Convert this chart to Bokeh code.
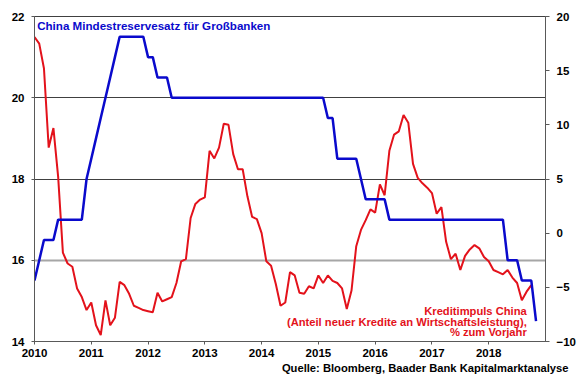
from bokeh.plotting import figure
from bokeh.models import Range1d, LinearAxis, FixedTicker, Grid, Label, Title
from bokeh.embed import file_html
from bokeh.resources import INLINE

# Monthly data from Jan 2010
reserve_ratio = [15.5, 16.0, 16.5, 16.5, 16.5, 17.0, 17.0, 17.0, 17.0, 17.0, 17.0, 18.0,
                 18.5, 19.0, 19.5, 20.0, 20.5, 21.0, 21.5, 21.5, 21.5, 21.5, 21.5, 21.5,
                 21.0, 21.0, 20.5, 20.5, 20.5, 20.0, 20.0, 20.0, 20.0, 20.0, 20.0, 20.0,
                 20.0, 20.0, 20.0, 20.0, 20.0, 20.0, 20.0, 20.0, 20.0, 20.0, 20.0, 20.0,
                 20.0, 20.0, 20.0, 20.0, 20.0, 20.0, 20.0, 20.0, 20.0, 20.0, 20.0, 20.0,
                 20.0, 20.0, 19.5, 19.5, 18.5, 18.5, 18.5, 18.5, 18.5, 18.0, 17.5, 17.5,
                 17.5, 17.5, 17.5, 17.0, 17.0, 17.0, 17.0, 17.0, 17.0, 17.0, 17.0, 17.0,
                 17.0, 17.0, 17.0, 17.0, 17.0, 17.0, 17.0, 17.0, 17.0, 17.0, 17.0, 17.0,
                 17.0, 17.0, 17.0, 17.0, 16.0, 16.0, 16.0, 15.5, 15.5, 15.5, 14.5]

credit_impulse = [18.1, 17.5, 15.2, 7.9, 9.7, 5.2, -1.8, -2.8, -3.1, -5.1, -5.9, -7.1,
                  -6.4, -8.5, -9.4, -6.2, -8.5, -7.8, -4.5, -4.8, -5.6, -6.7, -6.9, -7.1,
                  -7.2, -7.3, -5.5, -6.3, -6.1, -5.9, -4.6, -2.6, -2.4, 1.4, 2.7, 3.1,
                  3.3, 7.6, 6.9, 7.9, 10.1, 10.0, 7.3, 5.9, 5.9, 3.4, 1.5, 1.3,
                  0.0, -2.6, -3.0, -4.7, -6.7, -6.4, -3.6, -3.9, -5.5, -5.6, -4.9, -5.1,
                  -3.9, -4.6, -3.9, -4.4, -4.6, -5.1, -7.0, -5.3, -1.2, 0.3, 1.2, 2.2,
                  1.9, 4.5, 3.5, 7.6, 9.1, 9.4, 10.9, 10.2, 6.4, 5.1, 4.6, 4.2,
                  3.7, 1.8, 2.4, -0.8, -2.4, -1.9, -3.4, -2.1, -1.5, -1.1, -1.4, -2.2,
                  -2.6, -3.4, -3.6, -3.8, -3.4, -4.1, -4.6, -6.2, -5.4, -4.8]

x_reserve = [2010 + i / 12 for i in range(len(reserve_ratio))]
x_impulse = [2010 + i / 12 for i in range(len(credit_impulse))]

year_ticks = [2010, 2011, 2012, 2013, 2014, 2015, 2016, 2017, 2018]
left_ticks = [14, 16, 18, 20, 22]
right_ticks = [-10, -5, 0, 5, 10, 15, 20]

title_text = "China Mindestreservesatz für Großbanken"
red_lines = ["Kreditimpuls China",
             "(Anteil neuer Kredite an Wirtschaftsleistung),",
             "% zum Vorjahr"]
source_text = "Quelle: Bloomberg, Baader Bank Kapitalmarktanalyse"

BLUE = "#0a0acc"
RED = "#e3121b"
AXC = "#595959"
FONT = "Liberation Sans"

p = figure(width=579, height=374, output_backend="svg", toolbar_location=None,
           x_range=Range1d(2010, 2019), y_range=Range1d(14, 22),
           min_border_left=34, min_border_top=16, min_border_right=30, min_border_bottom=33,
           background_fill_color="white", border_fill_color="white")
p.outline_line_color = "#404040"
p.outline_line_width = 1
p.xgrid.visible = False
p.ygrid.visible = False

p.extra_y_ranges = {"impuls": Range1d(-10, 20)}

def style_axis(ax):
    ax.axis_line_color = AXC
    ax.major_tick_line_color = AXC
    ax.minor_tick_line_color = None
    ax.major_tick_in = 0
    ax.major_tick_out = 3
    ax.major_label_text_font = FONT
    ax.major_label_text_font_style = "bold"
    ax.major_label_text_font_size = "11.5px"
    ax.major_label_text_color = "black"

p.xaxis.ticker = FixedTicker(ticks=year_ticks)
p.xaxis.formatter.use_scientific = False
p.xaxis.major_label_standoff = 4
style_axis(p.xaxis[0])

p.yaxis.ticker = FixedTicker(ticks=left_ticks)
p.yaxis.major_label_standoff = 7
style_axis(p.yaxis[0])

right_axis = LinearAxis(y_range_name="impuls", ticker=FixedTicker(ticks=right_ticks))
style_axis(right_axis)
right_axis.major_tick_out = 4
right_axis.major_label_standoff = 7
p.add_layout(right_axis, "right")

dark_grid = Grid(dimension=1, ticker=FixedTicker(ticks=[18, 20]),
                 grid_line_color="#404040", grid_line_width=1)
light_grid = Grid(dimension=1, ticker=FixedTicker(ticks=[16]),
                  grid_line_color="#a6a6a6", grid_line_width=2)
p.add_layout(dark_grid)
p.add_layout(light_grid)

p.line(x_impulse, credit_impulse, y_range_name="impuls", line_color=RED, line_width=2)
p.line(x_reserve, reserve_ratio, line_color=BLUE, line_width=2.5)

p.add_layout(Label(x=2010.047, y=21.77, text=title_text, text_color=BLUE,
                   text_font=FONT, text_font_style="bold", text_font_size="11.6px",
                   text_baseline="middle", text_align="left"))

for txt, yy in zip(red_lines, [14.763, 14.492, 14.229]):
    p.add_layout(Label(x=2018.67, y=yy, text=txt, text_color=RED,
                       text_font=FONT, text_font_style="bold", text_font_size="11.2px",
                       text_baseline="middle", text_align="right"))

source = Title(text=source_text, align="right", offset=-23, standoff=0,
               text_font=FONT, text_font_style="bold", text_font_size="11.2px",
               text_color="black")
p.add_layout(source, "below")

open("out.html", "w").write(file_html(p, INLINE))
